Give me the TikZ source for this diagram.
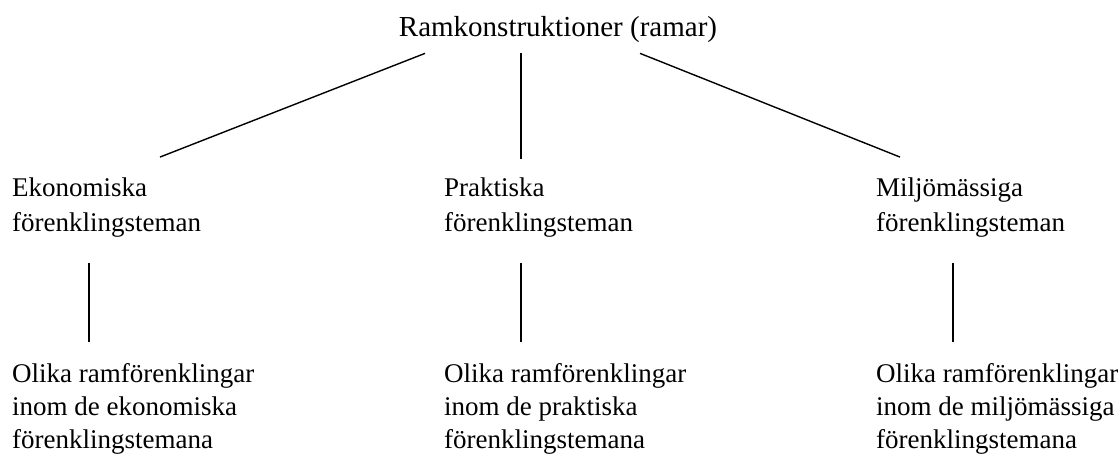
\documentclass[tikz,border=0pt]{standalone}
\usepackage{fontspec}
\setmainfont{Liberation Serif}
\usetikzlibrary{calc}
\tikzset{
  tema/.style={anchor=base west, inner sep=0pt, align=left, font=\fontsize{27}{35}\selectfont},
  forenkling/.style={anchor=base west, inner sep=0pt, align=left, font=\fontsize{27}{33}\selectfont},
  gren/.style={line width=1.4pt},
}
\begin{document}
\begin{tikzpicture}[x=1pt,y=1pt,yscale=-1,xscale=1]
\useasboundingbox (0,0) rectangle (1118,454);
% Title
\node [anchor=base, inner sep=0pt, font=\fontsize{29}{33}\selectfont] (ram) at (558,37) {Ramkonstruktioner (ramar)};

% Themes (base = last line)
\node [tema] (eko) at (12,232) {Ekonomiska\\förenklingsteman};
\node [tema] (pra) at (444,232) {Praktiska\\förenklingsteman};
\node [tema] (mil) at (876,232) {Miljömässiga\\förenklingsteman};

% Simplifications
\node [forenkling] (oeko) at (12,448) {Olika ramförenklingar\\inom de ekonomiska\\förenklingstemana};
\node [forenkling] (opra) at (444,448) {Olika ramförenklingar\\inom de praktiska\\förenklingstemana};
\node [forenkling] (omil) at (876,448) {Olika ramförenklingar\\inom de miljömässiga\\förenklingstemana};

% Lines
\draw [gren] ($(ram.south)+(-133,10)$) -- ($(eko.north west)+(148,-21)$);
\draw [gren] ($(ram.south)+(-37,10)$) -- ($(pra.north west)+(77,-19)$);
\draw [gren] ($(ram.south)+(82,10)$) -- ($(mil.north west)+(24,-21)$);

\draw [gren] ($(eko.south west)+(77,25)$) -- ($(oeko.north west)+(77,-21)$);
\draw [gren] ($(pra.south west)+(77,25)$) -- ($(opra.north west)+(77,-21)$);
\draw [gren] ($(mil.south west)+(77,25)$) -- ($(omil.north west)+(77,-21)$);

\end{tikzpicture}
\end{document}
